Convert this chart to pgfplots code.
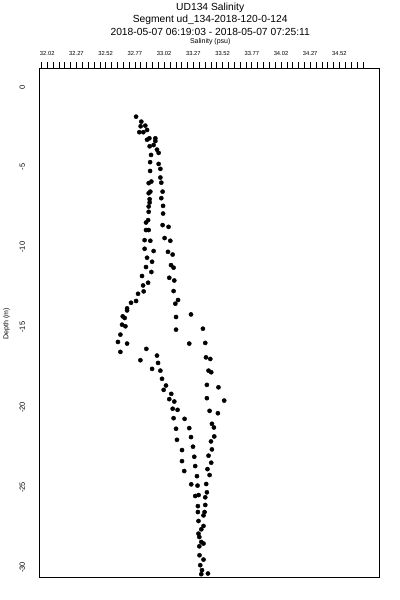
\documentclass[border=0pt]{standalone}
\usepackage{fontspec}
\setmainfont{Liberation Sans}
\usepackage{pgfplots}
\pgfplotsset{compat=1.18}
\begin{document}
\begin{tikzpicture}[x=1pt,y=1pt]
\path (0,0) rectangle (400,600);
\node[font=\fontsize{10.3}{11}\selectfont] at (210,593) {UD134 Salinity};
\node[font=\fontsize{10.3}{11}\selectfont] at (210,581) {Segment ud\_134-2018-120-0-124};
\node[font=\fontsize{10.3}{11}\selectfont] at (210,569) {2018-05-07 06:19:03 - 2018-05-07 07:25:11};
\node[font=\fontsize{7}{8}\selectfont] at (210,559.5) {Salinity (psu)};
\node[font=\fontsize{7}{8}\selectfont, rotate=90] at (6,277) {Depth (m)};
\begin{axis}[
  at={(39pt,23pt)}, anchor=south west,
  scale only axis, width=341pt, height=510pt,
  xmin=31.954, xmax=34.866, ymin=-30.6, ymax=1.19,
  axis line style={line width=0.8pt},
  xtick pos=upper, xticklabel pos=upper,
  ytick pos=left,
  tick align=outside,
  xtick={32.02,32.27,32.52,32.77,33.02,33.27,33.52,33.77,34.02,34.27,34.52},
  xticklabels={32.02,32.27,32.52,32.77,33.02,33.27,33.52,33.77,34.02,34.27,34.52},
  minor xtick={31.97,32.02,32.07,32.12,32.17,32.22,32.27,32.32,32.37,32.42,32.47,32.52,32.57,32.62,32.67,32.72,32.77,32.82,32.87,32.92,32.97,33.02,33.07,33.12,33.17,33.22,33.27,33.32,33.37,33.42,33.47,33.52,33.57,33.62,33.67,33.72,33.77,33.82,33.87,33.92,33.97,34.02,34.07,34.12,34.17,34.22,34.27,34.32,34.37,34.42,34.47,34.52,34.57,34.62,34.67,34.72},
  x tick style={line width=0.6pt, black},
  major tick length=6pt, minor tick length=6pt,
  ytick={0,-5,-10,-15,-20,-25,-30},
  yticklabels={0,-5,-10,-15,-20,-25,-30},
  y tick style={draw=none},
  xticklabel style={font=\fontsize{5.8}{6}\selectfont, yshift=3pt},
  yticklabel style={font=\fontsize{7.5}{9}\selectfont, xshift=-5pt, rotate=90, anchor=south},
  clip=false,
]
\addplot[only marks, mark=*, mark size=2.1pt, black] coordinates {
(32.780,-1.85) (32.825,-2.16) (32.819,-2.45) (32.859,-2.41) (32.808,-2.82) (32.842,-2.82) (32.874,-2.68)
(32.874,-3.29) (32.894,-3.20) (32.945,-3.20) (32.945,-3.37) (32.896,-3.70) (32.930,-3.62) (32.959,-3.91)
(32.973,-4.11) (32.908,-4.24) (32.900,-4.69) (32.973,-4.80) (32.900,-5.24) (32.988,-5.11)
(32.988,-5.65) (32.996,-5.97) (32.888,-6.00) (32.911,-5.90) (32.902,-6.53) (32.888,-6.63) (33.007,-6.53)
(32.896,-7.00) (32.896,-7.21) (32.996,-6.94) (32.888,-7.46) (33.011,-7.42) (32.888,-7.79) (33.011,-7.90)
(32.883,-8.31) (32.865,-8.46) (33.007,-8.62) (33.058,-8.73) (32.865,-8.93) (32.888,-8.93)
(32.853,-9.56) (32.902,-9.60) (33.024,-9.43) (33.073,-9.60)
(32.853,-10.10) (32.930,-10.24) (33.053,-10.29) (33.093,-10.46) (32.874,-10.66) (32.917,-10.91)
(32.865,-11.24) (33.079,-11.12) (33.101,-11.28) (32.911,-11.55) (32.831,-11.80) (33.064,-11.91)
(33.107,-12.08) (32.840,-12.39) (32.883,-12.22) (33.101,-12.74) (32.797,-12.91) (32.845,-12.76)
(33.139,-13.30) (33.116,-13.53) (32.737,-13.47) (32.780,-13.36) (32.703,-13.82)
(32.703,-13.95) (32.666,-14.32) (32.683,-14.42) (33.122,-14.36) (33.250,-14.20) (32.660,-14.84)
(32.689,-14.94) (33.122,-15.15) (33.352,-15.09) (32.646,-15.46) (32.625,-15.92) (32.703,-16.02)
(33.235,-16.02) (33.372,-15.98) (32.646,-16.54) (32.868,-16.35) (32.959,-16.77) (32.968,-17.23)
(32.817,-17.06) (33.378,-16.88) (33.415,-16.98) (32.917,-17.60) (32.988,-17.71) (33.400,-17.71)
(33.423,-17.81)
(33.002,-18.22) (33.036,-18.64) (33.016,-18.91) (33.386,-18.60) (33.485,-18.75) (33.081,-19.16)
(33.064,-19.49) (33.107,-19.64) (33.386,-19.43) (33.534,-19.58) (33.093,-20.09) (33.135,-20.16)
(33.409,-20.22) (33.480,-20.37) (33.101,-20.68) (33.195,-20.72) (33.429,-21.03) (33.446,-21.26)
(33.122,-21.34) (33.235,-21.30) (33.449,-21.82) (33.421,-22.13) (33.130,-22.03) (33.250,-21.86)
(33.173,-22.67) (33.267,-22.46) (33.429,-22.63) (33.173,-23.36) (33.278,-23.09) (33.400,-23.02)
(33.423,-23.46) (33.192,-23.98) (33.286,-23.67) (33.391,-23.86) (33.301,-24.30) (33.409,-24.23)
(33.252,-24.81) (33.306,-24.89) (33.380,-24.79) (33.386,-25.31) (33.286,-25.54) (33.315,-25.48)
(33.372,-25.62) (33.309,-26.17) (33.372,-26.10)
(33.309,-26.54) (33.357,-26.75) (33.366,-26.54) (33.314,-27.10) (33.357,-27.41) (33.338,-27.62)
(33.314,-27.89) (33.321,-28.10) (33.338,-28.41) (33.357,-28.51) (33.321,-28.68) (33.323,-29.24)
(33.357,-29.51) (33.329,-29.86) (33.344,-30.17) (33.338,-30.42) (33.395,-30.38)
};
\end{axis}
\end{tikzpicture}
\end{document}
